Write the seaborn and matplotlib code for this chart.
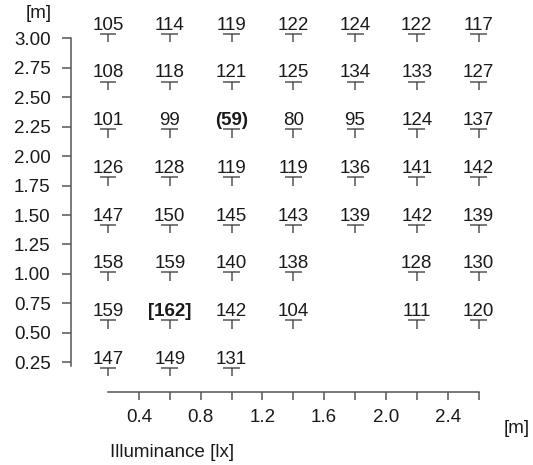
import numpy as np
import pandas as pd
import matplotlib
matplotlib.use("Agg")
import matplotlib.pyplot as plt
from matplotlib.path import Path
import seaborn as sns

# Measurement grid positions [m]
x_positions = [0.2, 0.6, 1.0, 1.4, 1.8, 2.2, 2.6]
y_positions = [0.2025, 0.6075, 1.0125, 1.4175, 1.8225, 2.2275, 2.6325, 3.0375]

# Illuminance readings [lx], one list per row from bottom (y=0.2) to top; None = not measured
row_1 = [147, 149, 131, None, None, None, None]
row_2 = [159, 162, 142, 104, None, 111, 120]
row_3 = [158, 159, 140, 138, None, 128, 130]
row_4 = [147, 150, 145, 143, 139, 142, 139]
row_5 = [126, 128, 119, 119, 136, 141, 142]
row_6 = [101, 99, 59, 80, 95, 124, 137]
row_7 = [108, 118, 121, 125, 134, 133, 127]
row_8 = [105, 114, 119, 122, 124, 122, 117]
rows = [row_1, row_2, row_3, row_4, row_5, row_6, row_7, row_8]

# Highlighted readings: maximum in brackets, minimum in parentheses
max_point = (0.6, 0.6075)
min_point = (1.0, 2.2275)

y_ticks = [0.25, 0.50, 0.75, 1.00, 1.25, 1.50, 1.75, 2.00, 2.25, 2.50, 2.75, 3.00]
x_ticks = [0.4, 0.6, 0.8, 1.0, 1.2, 1.4, 1.6, 1.8, 2.0, 2.2, 2.4, 2.6]
x_tick_labels = ["0.4", "", "0.8", "", "1.2", "", "1.6", "", "2.0", "", "2.4", ""]

records = []
for yv, row in zip(y_positions, rows):
    for xv, val in zip(x_positions, row):
        if val is not None:
            records.append({"x": xv, "y": yv, "lux": val})
df = pd.DataFrame(records)

sns.set_theme(style="white")
plt.rcParams["font.family"] = ["Liberation Sans", "DejaVu Sans"]

TEXT = "#1a1a1a"
LINE = "#555555"
FS = 13.5

fig = plt.figure(figsize=(5.33, 4.65), dpi=100)
ax = fig.add_axes([71 / 533, 73 / 465, (500 - 71) / 533, (392 - 15) / 465])

# "T" shaped marker: horizontal bar at the point with a short stem below
t_marker = Path([(-1, 0), (1, 0), (0, 0), (0, -1)],
                [Path.MOVETO, Path.LINETO, Path.MOVETO, Path.LINETO])

sns.scatterplot(data=df, x="x", y="y", ax=ax, marker=t_marker, s=12.2 ** 2,
                facecolor="none", edgecolor=LINE, linewidth=1.1, legend=False,
                clip_on=False)

for _, r in df.iterrows():
    label = str(int(r["lux"]))
    weight = "normal"
    if np.isclose(r["x"], max_point[0]) and np.isclose(r["y"], max_point[1]):
        label, weight = f"[{label}]", "bold"
    elif np.isclose(r["x"], min_point[0]) and np.isclose(r["y"], min_point[1]):
        label, weight = f"({label})", "bold"
    ax.annotate(label, (r["x"], r["y"]), xytext=(0, 3), textcoords="offset points",
                ha="center", va="baseline", fontsize=FS, color=TEXT,
                fontweight=weight, annotation_clip=False)

px_x = 154.4
px_y = 117.8
ax.set_xlim(0.2 - (108 - 71) / px_x, 0.2 + (500 - 108) / px_x)
ax.set_ylim(0.25 - (392 - 362.3) / px_y, 3.0 + (38.3 - 15) / px_y)

ax.set_yticks(y_ticks)
ax.set_yticklabels([f"{v:.2f}" for v in y_ticks])
ax.set_xticks(x_ticks)
ax.set_xticklabels(x_tick_labels)
ax.set_xlabel("")
ax.set_ylabel("")

for side in ["top", "right"]:
    ax.spines[side].set_visible(False)
for side in ["left", "bottom"]:
    ax.spines[side].set_color(LINE)
    ax.spines[side].set_linewidth(1.1)
ax.spines["left"].set_bounds(0.22, 3.0)
ax.spines["bottom"].set_bounds(0.2, 2.6)

ax.tick_params(axis="y", direction="out", length=6.5, width=1.1, color=LINE,
               pad=8.2, labelsize=FS, labelcolor=TEXT, left=True)
ax.tick_params(axis="x", direction="out", length=6, width=1.1, color=LINE,
               pad=6.0, labelsize=FS, labelcolor=TEXT, bottom=True)

fig.text(52 / 533, 1 - 14 / 465, "[m]", ha="right", va="center", fontsize=FS, color=TEXT)
fig.text(504 / 533, 1 - 428 / 465, "[m]", ha="left", va="center", fontsize=FS, color=TEXT)
fig.text(110 / 533, 1 - 452 / 465, "Illuminance [lx]", ha="left", va="center",
         fontsize=FS, color=TEXT)

fig.savefig("out.png", dpi=100)
